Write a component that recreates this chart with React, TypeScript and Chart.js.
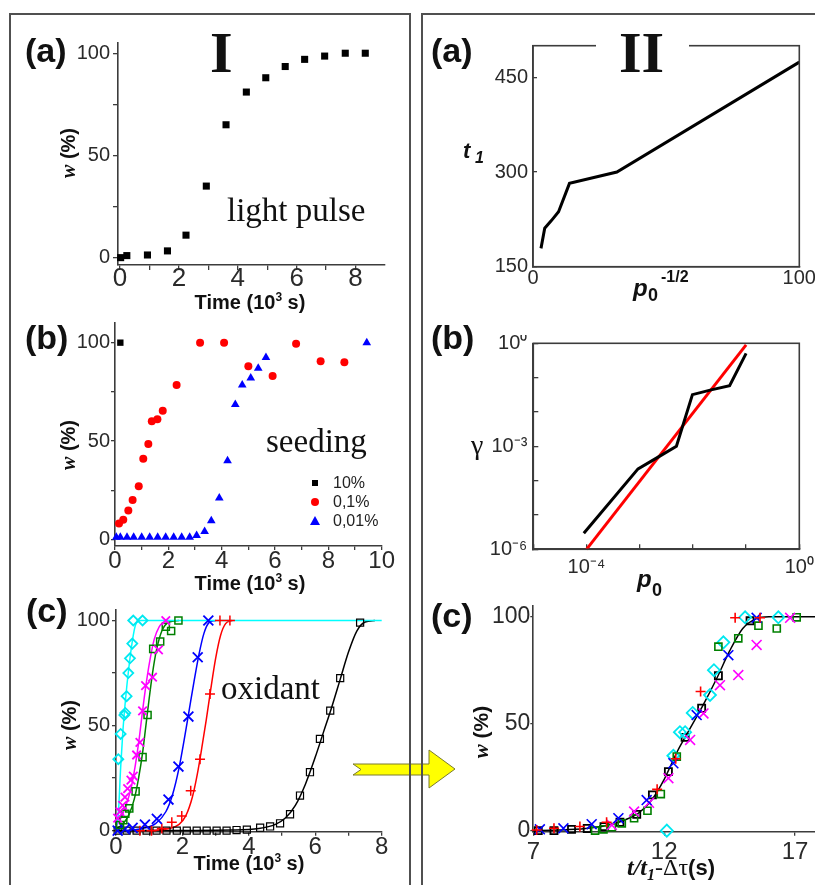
import React, { useEffect, useRef } from 'react';
import { Chart, registerables } from 'chart.js';

Chart.register(...registerables);

const SANS = "'Liberation Sans', Arial, Helvetica, sans-serif";
const SERIF = "'Liberation Serif', 'Times New Roman', serif";
const AX = '#3c3c3c';
const TICK = '#2a2a2a';

// ================= DATA =================
// I(a) light pulse
const pulseTime = [0.02, 0.23, 0.93, 1.61, 2.24, 2.93, 3.6, 4.29, 4.95, 5.61, 6.27, 6.95, 7.65, 8.33];
const pulseW = [0, 1, 1.3, 3.3, 11, 35, 65, 81, 88, 93.5, 97, 98.6, 100, 100];
const timeTicksA = [0, 1, 2, 3, 4, 5, 6, 7, 8];
const timeLabelsA = [0, 2, 4, 6, 8];

// I(b) seeding
const seed10Time = [0.2];
const seed10W = [100];
const seed01Time = [0.15, 0.31, 0.5, 0.66, 0.89, 1.06, 1.25, 1.38, 1.59, 1.79, 2.31, 3.19, 4.09, 5.0, 5.91, 6.79, 7.71, 8.6];
const seed01W = [8, 10, 14.6, 20, 27, 41, 48.5, 60, 61, 65.4, 78.5, 100, 100, 88, 83, 99.5, 90.5, 90];
const seed001Time = [0.05, 0.2, 0.45, 0.7, 1.0, 1.3, 1.6, 1.9, 2.2, 2.5, 2.8, 3.06, 3.36, 3.61, 3.91, 4.22, 4.51, 4.77, 5.09, 5.37, 5.66, 9.44];
const seed001W = [1, 1, 1, 1, 1, 1, 1, 1, 1, 1, 1, 2, 4, 9.5, 21, 40, 68.6, 78.5, 82, 87, 92.5, 100];
const timeTicksB = [0, 1, 2, 3, 4, 5, 6, 7, 8, 9, 10];
const timeLabelsB = [0, 2, 4, 6, 8, 10];
const legendB = ['10%', '0,1%', '0,01%'];

// I(c) oxidant
const oxCyanT = [0.07, 0.14, 0.25, 0.28, 0.32, 0.37, 0.42, 0.49, 0.52, 0.8];
const oxCyanW = [34, 46, 55, 56, 64, 75, 82, 89, 100, 100];
const oxCyanFitT = [0.0, 0.07, 0.14, 0.21, 0.29, 0.39, 0.49, 0.59, 0.75, 8];
const oxCyanFitW = [1, 8, 30, 48, 63, 78, 90, 98, 100, 100];
const oxMagT = [0.05, 0.12, 0.2, 0.27, 0.35, 0.45, 0.52, 0.62, 0.72, 0.8, 0.89, 1.1, 1.28, 1.5];
const oxMagW = [6, 9, 12, 16, 20, 24, 26, 36, 42, 57, 69, 73, 86, 100];
const oxMagFitT = [0.0, 0.15, 0.3, 0.45, 0.58, 0.7, 0.8, 0.9, 1.02, 1.15, 1.3, 1.5];
const oxMagFitW = [2, 6, 12, 20, 31, 44, 57, 69, 81, 91, 97, 100];
const oxGreenT = [0.12, 0.22, 0.28, 0.4, 0.59, 0.8, 0.95, 1.12, 1.33, 1.5, 1.66, 1.88];
const oxGreenW = [2.7, 5, 8, 10.6, 18.7, 35, 55, 86.5, 90, 97, 95, 100];
const oxGreenFitT = [0.0, 0.2, 0.4, 0.55, 0.68, 0.8, 0.9, 1.0, 1.1, 1.22, 1.38, 1.6, 1.9];
const oxGreenFitW = [1, 3, 8, 15, 25, 37, 50, 63, 75, 86, 95, 99.3, 100];
const oxBlueT = [0.05, 0.27, 0.5, 0.87, 1.23, 1.58, 1.88, 2.18, 2.46, 2.78];
const oxBlueW = [0, 0.7, 1.3, 2.9, 5.6, 14.8, 30.5, 54.3, 82.5, 100];
const oxBlueFitT = [0.3, 0.8, 1.2, 1.5, 1.7, 1.9, 2.05, 2.2, 2.35, 2.5, 2.65, 2.8, 3.0];
const oxBlueFitW = [0, 1, 3.5, 9, 17, 30, 43, 57, 71, 84, 94, 99, 100];
const oxRedT = [0.72, 1.07, 1.38, 1.68, 1.98, 2.25, 2.53, 2.83, 3.13, 3.43];
const oxRedW = [0, 0, 1, 4, 7, 19, 34, 65, 100, 100];
const oxRedFitT = [1.0, 1.6, 1.9, 2.1, 2.3, 2.45, 2.6, 2.72, 2.85, 3.0, 3.15, 3.3, 3.5];
const oxRedFitW = [0, 1, 3, 7, 16, 27, 41, 53, 67, 82, 93, 98.5, 100];
const oxBlackT = [0.05, 0.32, 0.62, 0.92, 1.22, 1.52, 1.83, 2.13, 2.43, 2.73, 3.03, 3.33, 3.63, 3.94, 4.34, 4.64, 4.94, 5.24, 5.54, 5.84, 6.14, 6.45, 6.75, 7.35];
const oxBlackW = [0, 0, 0, 0, 0, 0, 0, 0, 0, 0, 0, 0, 0.3, 0.5, 1.4, 2, 3.5, 7.8, 16.7, 27.8, 43.7, 57.1, 72.6, 99];
const oxBlackFitT = [0, 3.5, 4.3, 4.8, 5.1, 5.4, 5.7, 6.0, 6.25, 6.5, 6.75, 7.0, 7.25, 7.5, 7.8];
const oxBlackFitW = [0, 0.3, 1, 3, 6, 12, 22, 35, 47, 59, 72, 85, 95, 99.3, 100];
const timeTicksC = [0, 1, 2, 3, 4, 5, 6, 7, 8];
const timeLabelsC = [0, 2, 4, 6, 8];

const wTicks = [0, 25, 50, 75, 100];
const wLabels = [0, 50, 100];

// II(a) t1 vs p0^-1/2
const p0InvSqrt = [3, 4.4, 6.9, 9.6, 13.7, 31.5, 100];
const t1Values = [179, 211, 223, 237, 282, 300, 474];
const t1Ticks = [150, 300, 450];
const p0InvTicks = [0, 100];

// II(b) gamma vs p0 (log-log)
const gammaP0 = [8.9e-5, 9.3e-4, 2.3e-3, 4.9e-3, 9.8e-3, 2.2e-2, 4.9e-2, 1e-1];
const gammaVal = [2.95e-6, 2.2e-4, 5e-4, 1e-3, 3.2e-2, 4.4e-2, 5.8e-2, 0.51];
const gammaFitP0 = [1e-4, 1e-1];
const gammaFitVal = [1e-6, 0.9];
const p0TickExp = [-5, -4, -3, -2, -1, 0];
const p0LabelExp = [-4, 0];
const gammaTickExp = [-6, -5, -4, -3, -2, -1, 0];
const gammaLabelExp = [-6, -3, 0];

// II(c) scaled curves
const scRedX = [7.13, 7.79, 8.78, 9.8, 11.73, 12.44, 13.39, 14.71, 15.66];
const scRedW = [0.3, 1.1, 1.9, 3.9, 19.3, 33.6, 65, 99.5, 99.5];
const scBlueX = [7.25, 8.15, 9.23, 10.25, 11.33, 12.35, 13.24, 14.45, 15.53];
const scBlueW = [0.6, 1.1, 3, 5.8, 14.3, 31.5, 54, 82, 99.5];
const scMagX = [10.0, 10.85, 11.42, 12.16, 12.99, 13.5, 14.13, 14.83, 15.53, 16.81];
const scMagW = [2.6, 8.9, 13, 24.5, 42.4, 54.8, 68, 72.7, 86.8, 99.5];
const scGreenX = [9.36, 9.68, 10.0, 10.38, 10.85, 11.36, 11.87, 12.48, 14.07, 14.83, 15.6, 16.3, 17.06];
const scGreenW = [0, 0.6, 1.6, 3.4, 5.8, 9.3, 17.1, 34.6, 86, 89.9, 95.8, 94.5, 99.7];
const scCyanX = [12.1, 12.35, 12.6, 12.8, 13.09, 13.75, 13.9, 14.26, 15.09, 16.36];
const scCyanW = [0, 35, 46, 46, 55, 63.4, 75, 88, 99.7, 99.7];
const scBlackX = [7.19, 7.79, 8.46, 9.06, 9.7, 10.31, 10.95, 11.55, 12.16, 12.8, 13.43, 14.07, 15.28];
const scBlackW = [0, 0, 0.6, 1, 1.9, 3.9, 7.6, 16.7, 27.6, 43.6, 57.2, 72.4, 98.1];
const scFitX = [7, 8, 9, 9.5, 10, 10.5, 11, 11.5, 12, 12.5, 13, 13.5, 14, 14.5, 15, 15.5, 16, 17.8];
const scFitW = [0, 0.3, 1, 1.8, 3, 5, 8, 14, 24, 37, 48, 59, 71, 84, 94.5, 99, 100, 100];
const scTicks = [7, 12, 17];

// ================= HELPERS =================
const pts = (xs: number[], ys: number[]) => xs.map((x, i) => ({ x, y: ys[i] }));

function markers(xs: number[], ys: number[], style: string, radius: number, color: string, filled: boolean, bw = 1.5) {
  return {
    data: pts(xs, ys), showLine: false, pointStyle: style, pointRadius: radius,
    pointBorderWidth: bw, pointBorderColor: color,
    pointBackgroundColor: filled ? color : 'rgba(0,0,0,0)', clip: false, order: 1,
  };
}
function curve(xs: number[], ys: number[], color: string, width: number, smooth: boolean) {
  return {
    data: pts(xs, ys), showLine: true, pointRadius: 0, borderColor: color, borderWidth: width,
    cubicInterpolationMode: smooth ? 'monotone' : 'default', tension: 0, clip: false, order: 2, fill: false,
  };
}

const supMap: Record<string, string> = { '-': '\u207B', '0': '\u2070', '1': '\u00B9', '2': '\u00B2', '3': '\u00B3', '4': '\u2074', '5': '\u2075', '6': '\u2076' };
const sup = (n: number) => String(n).split('').map((c) => supMap[c] || c).join('');

function linScale(o: { min: number; max: number; ticks: number[]; labels: number[]; size: number; tl: number; pad: number; drawTicks?: boolean }) {
  const drawTicks = o.drawTicks !== false;
  return {
    type: 'linear', min: o.min, max: o.max,
    afterBuildTicks: (s: any) => { s.ticks = o.ticks.map((v) => ({ value: v })); },
    ticks: {
      autoSkip: false, maxRotation: 0, minRotation: 0, padding: o.pad, color: TICK,
      font: { family: SANS, size: o.size },
      callback: (v: number) => (o.labels.includes(v) ? String(v) : ''),
    },
    grid: { display: drawTicks, drawOnChartArea: false, drawTicks, tickLength: o.tl, color: AX, lineWidth: 1.3 },
    border: { display: true, color: AX, width: 1.6 },
  };
}
function logScale(o: { exps: number[]; labels: number[]; min: number; max: number; size: number; tl: number; pad: number }) {
  return {
    type: 'logarithmic', min: o.min, max: o.max,
    afterBuildTicks: (s: any) => { s.ticks = o.exps.map((e) => ({ value: Math.pow(10, e) })); },
    ticks: {
      autoSkip: false, maxRotation: 0, minRotation: 0, padding: o.pad, color: TICK,
      font: { family: SANS, size: o.size },
      callback: (v: number) => {
        const e = Math.round(Math.log10(v));
        return o.labels.includes(e) ? '10' + sup(e) : '';
      },
    },
    grid: { display: true, drawOnChartArea: false, drawTicks: true, tickLength: o.tl, color: AX, lineWidth: 1.3 },
    border: { display: true, color: AX, width: 1.6 },
  };
}

const framePlugin = {
  id: 'frame',
  afterDraw(chart: any) {
    const { ctx, chartArea: a } = chart;
    ctx.save();
    ctx.strokeStyle = AX;
    ctx.lineWidth = 1.6;
    ctx.strokeRect(a.left, a.top, a.right - a.left, a.bottom - a.top);
    ctx.restore();
  },
};

type Rect = { left: number; top: number; width: number; height: number };
type Plot = { left: number; top: number; right: number; bottom: number };

function ChartPanel({ rect, plot, x, y, datasets, frame }: { rect: Rect; plot: Plot; x: any; y: any; datasets: any[]; frame?: boolean }) {
  const ref = useRef<HTMLCanvasElement>(null);
  useEffect(() => {
    const padTop = plot.top - rect.top;
    const padRight = rect.left + rect.width - plot.right;
    const yW = plot.left - rect.left;
    const xH = rect.top + rect.height - plot.bottom;
    const zero = (s: any) => { s.paddingLeft = 0; s.paddingRight = 0; s.paddingTop = 0; s.paddingBottom = 0; };
    const chart = new Chart(ref.current as HTMLCanvasElement, {
      type: 'scatter',
      data: { datasets },
      options: {
        responsive: false, animation: false, events: [], devicePixelRatio: 1,
        layout: { padding: { top: padTop, right: padRight, left: 0, bottom: 0 }, autoPadding: false },
        plugins: { legend: { display: false }, tooltip: { enabled: false }, title: { display: false } },
        scales: {
          x: { ...x, position: 'bottom', afterFit: (s: any) => { s.height = xH; zero(s); } },
          y: { ...y, position: 'left', afterFit: (s: any) => { s.width = yW; zero(s); } },
        },
      } as any,
      plugins: frame ? [framePlugin] : [],
    } as any);
    return () => chart.destroy();
  }, []);
  return (
    <canvas ref={ref} width={rect.width} height={rect.height}
      style={{ position: 'absolute', left: rect.left, top: rect.top, width: rect.width, height: rect.height }} />
  );
}

function Label({ x, base, size, family = SANS, bold = false, italic = false, color = '#111', children, style }: any) {
  const k = family === SERIF ? 0.8375 : 0.8465;
  return (
    <div style={{ position: 'absolute', left: x, top: base - size * k, fontFamily: family, fontSize: size, lineHeight: `${size}px`, fontWeight: bold ? 'bold' : 'normal', fontStyle: italic ? 'italic' : 'normal', color, whiteSpace: 'nowrap', ...style }}>
      {children}
    </div>
  );
}
function Centered({ cx, cy, rotate = false, children, style }: any) {
  return (
    <div style={{ position: 'absolute', left: cx, top: cy, transform: `translate(-50%,-50%)${rotate ? ' rotate(-90deg)' : ''}`, whiteSpace: 'nowrap', lineHeight: 1, ...style }}>
      {children}
    </div>
  );
}

const TimeTitle = ({ cx, cy }: any) => (
  <Centered cx={cx} cy={cy} style={{ fontFamily: SANS, fontWeight: 'bold', fontSize: 20, color: '#111' }}>
    Time (10<span style={{ fontSize: 12, position: 'relative', top: -8 }}>3</span> s)
  </Centered>
);
const WTitle = ({ cx, cy, size = 20 }: any) => (
  <Centered cx={cx} cy={cy} rotate style={{ fontFamily: SANS, fontWeight: 'bold', fontSize: size, color: '#111' }}>
    <span style={{ fontFamily: SERIF, fontStyle: 'italic' }}>w</span> (%)
  </Centered>
);

// ================= APP =================
export default function App() {
  const wY = (min: number, max: number, size: number, tl: number, pad: number) => linScale({ min, max, ticks: wTicks, labels: wLabels, size, tl, pad });

  return (
    <div style={{ position: 'absolute', left: 0, top: 0, width: 815, height: 885, overflow: 'hidden', background: '#fff', fontFamily: SANS }}>
      {/* yellow arrow (under the box borders) */}
      <svg width={815} height={885} style={{ position: 'absolute', left: 0, top: 0 }}>
        <polygon points="353,764 429,764 429,750 455,769 429,788 429,775 353,775 361,769.5" fill="#ffff00" stroke="#7a7a30" strokeWidth={1} />
      </svg>
      {/* panel boxes */}
      <div style={{ position: 'absolute', left: 9, top: 13, width: 402, height: 900, border: '2px solid #505050', boxSizing: 'border-box' }} />
      <div style={{ position: 'absolute', left: 421, top: 13, width: 500, height: 900, border: '2px solid #505050', boxSizing: 'border-box' }} />

      {/* I(a) */}
      <ChartPanel rect={{ left: 60, top: 35, width: 335, height: 265 }} plot={{ left: 118, top: 43, right: 385, bottom: 265 }}
        x={linScale({ min: -0.07, max: 9, ticks: timeTicksA, labels: timeLabelsA, size: 26, tl: 5, pad: -7 })}
        y={wY(-3.6, 105, 20, 5, 3)}
        datasets={[markers(pulseTime, pulseW, 'rect', 5, '#000', true, 0)]} />

      {/* I(b) */}
      <ChartPanel rect={{ left: 60, top: 315, width: 335, height: 270 }} plot={{ left: 115, top: 323, right: 381.7, bottom: 546 }}
        x={linScale({ min: 0, max: 10, ticks: timeTicksB, labels: timeLabelsB, size: 24, tl: 4, pad: -3 })}
        y={wY(-3.4, 110, 20, 4, 1)}
        datasets={[
          markers(seed10Time, seed10W, 'rect', 4.5, '#000', true, 0),
          markers(seed01Time, seed01W, 'circle', 4, '#ff0000', true, 0),
          markers(seed001Time, seed001W, 'triangle', 5, '#0000ff', true, 0),
        ]} />

      {/* I(c) */}
      <ChartPanel rect={{ left: 60, top: 600, width: 335, height: 270 }} plot={{ left: 116, top: 610, right: 381.7, bottom: 831.7 }}
        x={linScale({ min: 0, max: 8, ticks: timeTicksC, labels: timeLabelsC, size: 24, tl: 4, pad: -2.6 })}
        y={wY(-0.5, 105, 20, 4, 2)}
        datasets={[
          curve(oxCyanFitT, oxCyanFitW, '#00ffff', 1.5, true),
          curve(oxMagFitT, oxMagFitW, '#ff00ff', 1.5, true),
          curve(oxGreenFitT, oxGreenFitW, '#008000', 1.5, true),
          curve(oxBlueFitT, oxBlueFitW, '#0000ff', 1.5, true),
          curve(oxRedFitT, oxRedFitW, '#ff0000', 1.5, true),
          curve(oxBlackFitT, oxBlackFitW, '#000000', 1.5, true),
          markers(oxCyanT, oxCyanW, 'rectRot', 5, '#00e8f0', false, 1.8),
          markers(oxMagT, oxMagW, 'crossRot', 6, '#ff00ff', false, 1.8),
          markers(oxGreenT, oxGreenW, 'rect', 5, '#008000', false, 1.5),
          markers(oxBlueT, oxBlueW, 'crossRot', 7, '#0000ff', false, 1.8),
          markers(oxRedT, oxRedW, 'cross', 5, '#ff0000', false, 1.5),
          markers(oxBlackT, oxBlackW, 'rect', 5, '#000000', false, 1.2),
        ]} />

      {/* II(a) */}
      <ChartPanel rect={{ left: 470, top: 38, width: 360, height: 262 }} plot={{ left: 533, top: 45.7, right: 799.3, bottom: 266.7 }}
        frame
        x={linScale({ min: 0, max: 100, ticks: p0InvTicks, labels: p0InvTicks, size: 20, tl: 0, pad: 0, drawTicks: false })}
        y={linScale({ min: 150, max: 500, ticks: t1Ticks, labels: t1Ticks, size: 20, tl: -4, pad: 9 })}
        datasets={[curve(p0InvSqrt, t1Values, '#000', 3, false)]} />

      {/* II(b) */}
      <ChartPanel rect={{ left: 470, top: 335, width: 360, height: 250 }} plot={{ left: 533.3, top: 343.3, right: 799.3, bottom: 549.3 }}
        frame
        x={logScale({ exps: p0TickExp, labels: p0LabelExp, min: 1e-5, max: 1, size: 20, tl: -5, pad: 11 })}
        y={logScale({ exps: gammaTickExp, labels: gammaLabelExp, min: 1e-6, max: 1, size: 20, tl: -5, pad: 11 })}
        datasets={[
          curve(gammaP0, gammaVal, '#000', 3, false),
          curve(gammaFitP0, gammaFitVal, '#ff0000', 3, false),
        ]} />

      {/* II(c) */}
      <ChartPanel rect={{ left: 470, top: 598, width: 370, height: 282 }} plot={{ left: 533.3, top: 606, right: 815, bottom: 831.7 }}
        x={linScale({ min: 7, max: 17.76, ticks: scTicks, labels: scTicks, size: 24, tl: 4, pad: 2.4 })}
        y={linScale({ min: -0.5, max: 105, ticks: wLabels, labels: wLabels, size: 23, tl: 3, pad: 0 })}
        datasets={[
          curve(scFitX, scFitW, '#000', 1.5, true),
          markers(scRedX, scRedW, 'cross', 5, '#ff0000', false, 1.6),
          markers(scBlueX, scBlueW, 'crossRot', 7, '#0000ff', false, 1.6),
          markers(scMagX, scMagW, 'crossRot', 7, '#ff00ff', false, 1.6),
          markers(scGreenX, scGreenW, 'rect', 5, '#008000', false, 1.6),
          markers(scCyanX, scCyanW, 'rectRot', 6, '#00e8f0', false, 1.8),
          markers(scBlackX, scBlackW, 'rect', 5, '#000', false, 1.8),
        ]} />

      {/* white gap in II(a) frame for the "II" title */}
      <div style={{ position: 'absolute', left: 596, top: 41, width: 93, height: 10, background: '#fff' }} />

      {/* big roman numerals */}
      <Label x={210} base={73} size={58} family={SERIF} bold>I</Label>
      <Label x={619} base={73} size={58} family={SERIF} bold>II</Label>

      {/* panel letters */}
      <Label x={25} base={62} size={34} bold>(a)</Label>
      <Label x={25} base={349} size={34} bold>(b)</Label>
      <Label x={26} base={622} size={34} bold>(c)</Label>
      <Label x={431} base={62} size={34} bold>(a)</Label>
      <Label x={431} base={349} size={34} bold>(b)</Label>
      <Label x={431} base={627} size={34} bold>(c)</Label>

      {/* annotations */}
      <Label x={227} base={222} size={33} family={SERIF}>light pulse</Label>
      <Label x={266} base={453} size={33} family={SERIF}>seeding</Label>
      <Label x={221} base={700} size={33} family={SERIF}>oxidant</Label>

      {/* I(b) legend */}
      {legendB.map((name, i) => {
        const cy = 483 + i * 19;
        return (
          <React.Fragment key={name}>
            <svg width={12} height={12} style={{ position: 'absolute', left: 309, top: cy - 6 }}>
              {i === 0 && <rect x={3} y={3} width={6} height={6} fill="#000" />}
              {i === 1 && <circle cx={6} cy={6} r={4} fill="#ff0000" />}
              {i === 2 && <polygon points="6,1 11,10 1,10" fill="#0000ff" />}
            </svg>
            <Centered cx={0} cy={cy} style={{ left: 333, transform: 'translate(0,-50%)', fontFamily: SANS, fontSize: 16, color: '#222' }}>{name}</Centered>
          </React.Fragment>
        );
      })}

      {/* axis titles, panel I */}
      <TimeTitle cx={250} cy={302} />
      <TimeTitle cx={250} cy={583} />
      <TimeTitle cx={249} cy={863} />
      <WTitle cx={68} cy={153} />
      <WTitle cx={68} cy={445} />
      <WTitle cx={69} cy={725} />

      {/* axis titles, panel II */}
      <Label x={463} base={159} size={22} bold italic>t</Label>
      <Label x={475} base={164} size={16} bold italic>1</Label>
      <Label x={633} base={296} size={24} bold italic>p</Label>
      <Label x={648} base={301} size={18} bold>0</Label>
      <Label x={661} base={283} size={16} bold>-1/2</Label>

      <Label x={471} base={454} size={28} family={SERIF}>γ</Label>
      <Label x={637} base={587} size={24} bold italic>p</Label>
      <Label x={652} base={596} size={18} bold>0</Label>

      <WTitle cx={481} cy={732} size={21} />
      <div style={{ position: 'absolute', left: 627, top: 875 - 24 * 0.8375, whiteSpace: 'nowrap', lineHeight: '24px', color: '#111' }}>
        <span style={{ fontFamily: SERIF, fontStyle: 'italic', fontWeight: 'bold', fontSize: 24 }}>t/t</span>
        <span style={{ fontFamily: SERIF, fontStyle: 'italic', fontWeight: 'bold', fontSize: 16, position: 'relative', top: 5 }}>1</span>
        <span style={{ fontFamily: SERIF, fontSize: 24 }}>-Δτ</span>
        <span style={{ fontFamily: SANS, fontWeight: 'bold', fontSize: 22 }}>(s)</span>
      </div>
    </div>
  );
}
